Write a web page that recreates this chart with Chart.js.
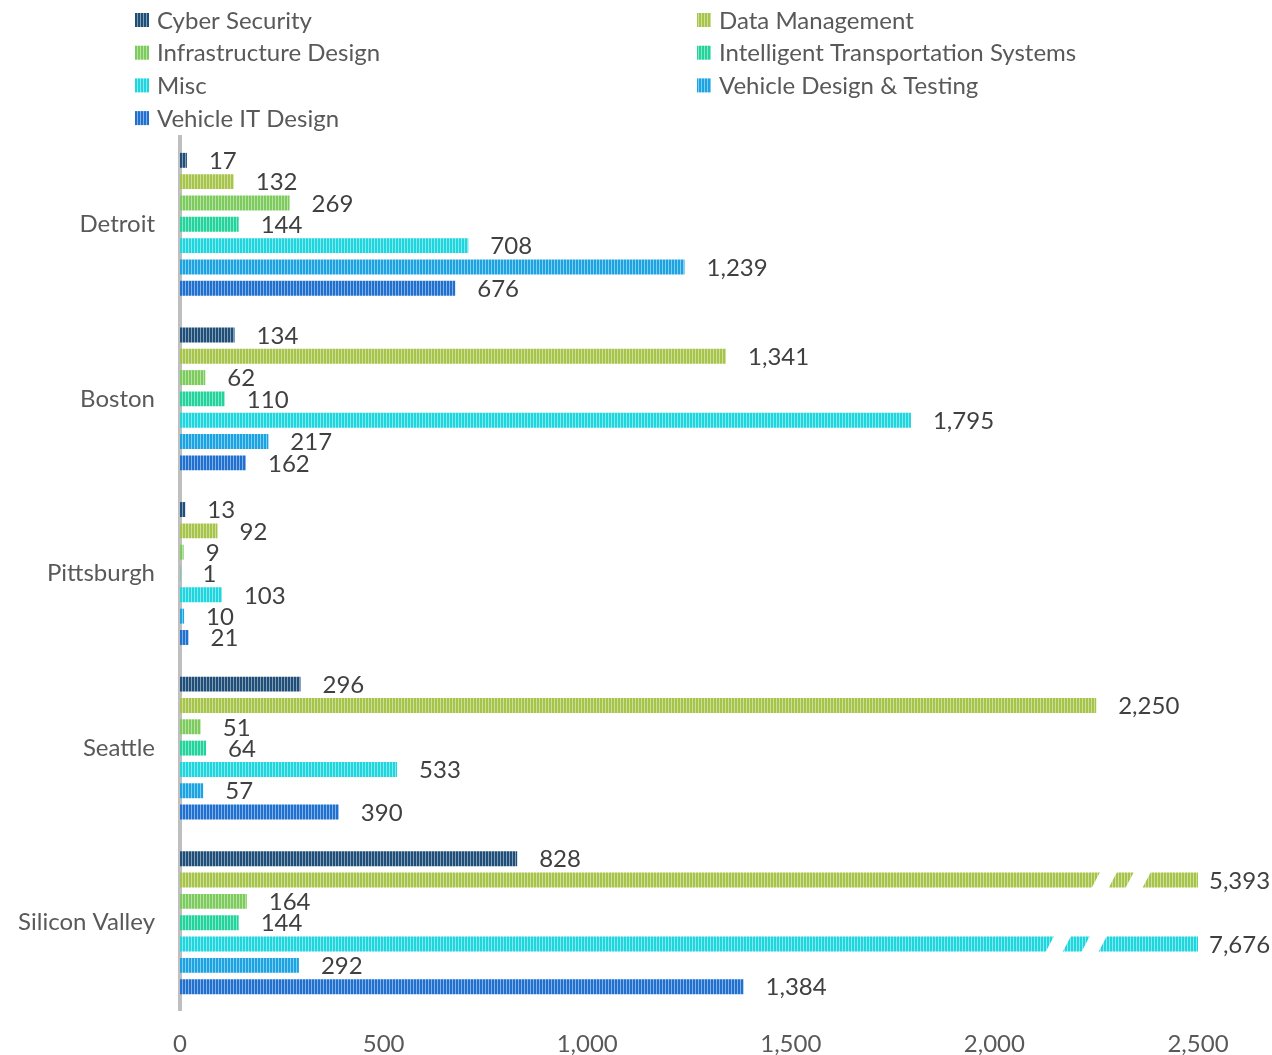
<!DOCTYPE html>
<html lang="en">
<head>
    <meta charset="UTF-8">
    <title>Jobs by category and city</title>
    <script src="https://cdn.jsdelivr.net/npm/chart.js"></script>
    <style>
        body { margin: 0; background: #fff; }
        #wrap { width: 1272px; height: 1055px; }
    </style>
</head>
<body>
    <div id="wrap"><canvas id="cityChart"></canvas></div>

    <script>
        // Cities and categories
        const cities = ['Detroit', 'Boston', 'Pittsburgh', 'Seattle', 'Silicon Valley'];
        const seriesNames = ['Cyber Security', 'Data Management', 'Infrastructure Design',
            'Intelligent Transportation Systems', 'Misc', 'Vehicle Design & Testing', 'Vehicle IT Design'];

        // Values per category, in city order
        const cyberSecurity = [17, 134, 13, 296, 828];
        const dataManagement = [132, 1341, 92, 2250, 5393];
        const infrastructureDesign = [269, 62, 9, 51, 164];
        const intelligentTransport = [144, 110, 1, 64, 144];
        const misc = [708, 1795, 103, 533, 7676];
        const vehicleDesignTesting = [1239, 217, 10, 57, 292];
        const vehicleITDesign = [676, 162, 21, 390, 1384];

        const xTicks = [0, 500, 1000, 1500, 2000, 2500];
        const axisMax = 2500;

        // bars that run past the axis get two break marks (values on the x scale)
        const breakMarks = { 1: [2270, 2353], 4: [2157, 2245] };

        const seriesValues = [cyberSecurity, dataManagement, infrastructureDesign,
            intelligentTransport, misc, vehicleDesignTesting, vehicleITDesign];
        const colors = ['#1f4e79', '#a6c34a', '#7ccb5c', '#22d39b', '#1fd5de', '#1ba3e2', '#1f70cf'];

        const FONT = 'Lato, "Open Sans", sans-serif';

        // vertical stripe fill: solid colour with a lighter 1px line
        function lighten(hex, t) {
            const n = parseInt(hex.slice(1), 16);
            const r = n >> 16, g = (n >> 8) & 255, b = n & 255;
            const f = c => Math.round(c + (255 - c) * t);
            return `rgb(${f(r)},${f(g)},${f(b)})`;
        }
        function stripes(hex) {
            const c = document.createElement('canvas');
            c.width = 3; c.height = 4;
            const g = c.getContext('2d');
            g.fillStyle = hex;
            g.fillRect(0, 0, 3, 4);
            g.fillStyle = lighten(hex, 0.45);
            g.fillRect(2, 0, 1, 4);
            return g.createPattern(c, 'repeat');
        }

        const datasets = seriesNames.map((name, i) => ({
            label: name,
            data: seriesValues[i],
            backgroundColor: stripes(colors[i]),
            borderWidth: 0,
            barPercentage: 0.7,
            categoryPercentage: 0.855
        }));

        const fmt = v => v.toLocaleString('en-US');

        // value labels + break marks
        const barExtras = {
            id: 'barExtras',
            afterDatasetsDraw(chart) {
                const ctx = chart.ctx;
                const xs = chart.scales.x;
                const area = chart.chartArea;
                ctx.save();
                chart.data.datasets.forEach((ds, di) => {
                    const meta = chart.getDatasetMeta(di);
                    meta.data.forEach((bar, ci) => {
                        const h = bar.height;
                        const clipped = ds.data[ci] > axisMax;
                        if (breakMarks[di] && clipped) {
                            breakMarks[di].forEach(v => {
                                const px = xs.getPixelForValue(v);
                                const top = bar.y - h / 2 - 1, bot = bar.y + h / 2 + 1;
                                const w = 17, s = 9;
                                ctx.fillStyle = '#fff';
                                ctx.beginPath();
                                ctx.moveTo(px - s / 2 - w / 2, bot);
                                ctx.lineTo(px - s / 2 + w / 2, bot);
                                ctx.lineTo(px + s / 2 + w / 2, top);
                                ctx.lineTo(px + s / 2 - w / 2, top);
                                ctx.closePath();
                                ctx.fill();
                            });
                        }
                        const end = Math.min(bar.x, area.right);
                        ctx.fillStyle = '#404040';
                        ctx.font = '24px ' + FONT;
                        ctx.textAlign = 'left';
                        ctx.textBaseline = 'middle';
                        ctx.fillText(fmt(ds.data[ci]), end + (clipped ? 11 : 22), bar.y + 1);
                    });
                });
                ctx.restore();
            }
        };

        // two-column legend at the top
        const columnLegend = {
            id: 'columnLegend',
            afterDraw(chart) {
                const ctx = chart.ctx;
                ctx.save();
                ctx.font = '24px ' + FONT;
                ctx.textBaseline = 'middle';
                ctx.textAlign = 'left';
                seriesNames.forEach((name, i) => {
                    const x = i % 2 === 0 ? 135 : 697;
                    const y = 20 + Math.floor(i / 2) * 32.7;
                    ctx.fillStyle = chart.data.datasets[i].backgroundColor;
                    ctx.fillRect(x, y - 7, 14, 14);
                    ctx.fillStyle = '#595959';
                    ctx.fillText(name, x + 22, y + 1);
                });
                ctx.restore();
            }
        };

        new Chart(document.getElementById('cityChart'), {
            type: 'bar',
            data: { labels: cities, datasets: datasets },
            options: {
                indexAxis: 'y',
                responsive: true,
                maintainAspectRatio: false,
                animation: false,
                layout: { padding: { top: 137, right: 74, left: 0, bottom: 0 } },
                plugins: {
                    legend: { display: false },
                    tooltip: { enabled: false }
                },
                scales: {
                    x: {
                        min: 0,
                        max: axisMax,
                        afterFit: s => { s.height = 45; },
                        afterBuildTicks: s => { s.ticks = xTicks.map(v => ({ value: v })); },
                        grid: { display: false, drawTicks: false },
                        border: { display: false },
                        ticks: {
                            padding: 20,
                            color: '#595959',
                            font: { family: FONT, size: 24 },
                            maxRotation: 0,
                            callback: v => fmt(v)
                        }
                    },
                    y: {
                        afterFit: s => { s.width = 180; },
                        grid: { display: false, drawTicks: false },
                        border: { display: true, color: '#bfbfbf', width: 4 },
                        ticks: {
                            padding: 25,
                            color: '#595959',
                            font: { family: FONT, size: 24 }
                        }
                    }
                }
            },
            plugins: [barExtras, columnLegend]
        });
    </script>
</body>
</html>
